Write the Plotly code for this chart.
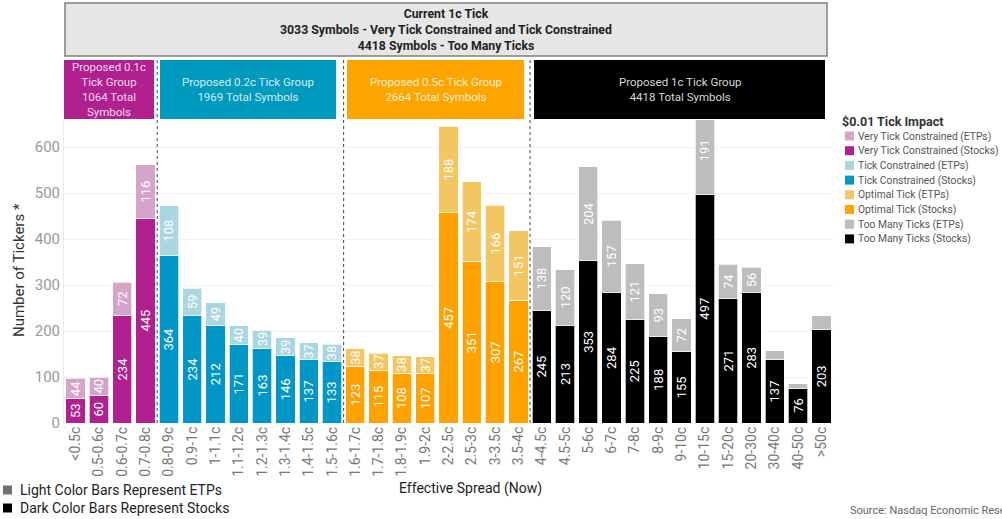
import plotly.graph_objects as go

categories = ['<0.5c', '0.5-0.6c', '0.6-0.7c', '0.7-0.8c', '0.8-0.9c', '0.9-1c', '1-1.1c',
              '1.1-1.2c', '1.2-1.3c', '1.3-1.4c', '1.4-1.5c', '1.5-1.6c', '1.6-1.7c',
              '1.7-1.8c', '1.8-1.9c', '1.9-2c', '2-2.5c', '2.5-3c', '3-3.5c', '3.5-4c',
              '4-4.5c', '4.5-5c', '5-6c', '6-7c', '7-8c', '8-9c', '9-10c', '10-15c',
              '15-20c', '20-30c', '30-40c', '40-50c', '>50c']
stocks = [53, 60, 234, 445, 364, 234, 212, 171, 163, 146, 137, 133, 123, 115, 108, 107,
          457, 351, 307, 267, 245, 213, 353, 284, 225, 188, 155, 497, 271, 283, 137, 76, 203]
etps = [44, 40, 72, 116, 108, 59, 49, 40, 39, 39, 37, 38, 38, 37, 38, 37,
        188, 174, 166, 151, 138, 120, 204, 157, 121, 93, 72, 191, 74, 56, 20, 9, 30]
group_of = [0] * 4 + [1] * 8 + [2] * 8 + [3] * 13

group_names = ['Very Tick Constrained', 'Tick Constrained', 'Optimal Tick', 'Too Many Ticks']
stock_colors = ['#B0208E', '#0096C6', '#FFA200', '#000000']
etp_colors = ['#D5A5C9', '#AAD6E2', '#F4C662', '#BDBDBD']
box_colors = ['#B0208E', '#009ABF', '#FFA500', '#000000']
box_texts = ['Proposed 0.1c<br>Tick Group<br>1064 Total<br>Symbols',
             'Proposed 0.2c Tick Group<br>1969 Total Symbols',
             'Proposed 0.5c Tick Group<br>2664 Total Symbols',
             'Proposed 1c Tick Group<br>4418 Total Symbols']
header_text = ('<b>Current 1c Tick</b><br><b>3033 Symbols - Very Tick Constrained and Tick Constrained</b>'
               '<br><b>4418 Symbols - Too Many Ticks</b>')

FONT = 'Roboto'
W, H = 1002, 519
L, R, T, B = 64, 833, 120, 423


def px_x(px):
    return (px - L) / (R - L)


def px_y(py):
    return (B - py) / (B - T)


fig = go.Figure()

# stocks (bottom) traces
for g in range(4):
    idx = [i for i in range(len(categories)) if group_of[i] == g]
    fig.add_trace(go.Bar(
        x=[categories[i] for i in idx], y=[stocks[i] for i in idx],
        name=f'{group_names[g]} (Stocks)',
        marker=dict(color=stock_colors[g], line=dict(color='rgba(255,255,255,0.7)', width=1)),
        text=[str(stocks[i]) for i in idx], textposition='inside', insidetextanchor='middle',
        textangle=-90, textfont=dict(color='white', size=13, family=FONT),
        showlegend=False))
# ETPs (top) traces
for g in range(4):
    idx = [i for i in range(len(categories)) if group_of[i] == g]
    fig.add_trace(go.Bar(
        x=[categories[i] for i in idx], y=[etps[i] for i in idx],
        name=f'{group_names[g]} (ETPs)',
        marker=dict(color=etp_colors[g], line=dict(color='rgba(255,255,255,0.7)', width=1)),
        text=[str(etps[i]) if etps[i] >= 35 else '' for i in idx], textposition='inside',
        insidetextanchor='middle', textangle=-90,
        textfont=dict(color='white', size=13, family=FONT),
        showlegend=False))

shapes = []
annotations = []

# header gray box
shapes.append(dict(type='rect', xref='paper', yref='paper', x0=px_x(65), x1=px_x(827),
                   y0=px_y(56), y1=px_y(3), fillcolor='#E6E6E6',
                   line=dict(color='#808080', width=1.5), layer='above'))
annotations.append(dict(xref='paper', yref='paper', x=px_x(446), y=px_y(30), text=header_text,
                        showarrow=False, font=dict(family=FONT, size=12.3, color='#222'),
                        align='center', xanchor='center', yanchor='middle'))

# group boxes
box_px = [(64, 154), (160, 336), (347, 524), (534, 825)]
for g in range(4):
    x0, x1 = box_px[g]
    shapes.append(dict(type='rect', xref='paper', yref='paper', x0=px_x(x0), x1=px_x(x1),
                       y0=px_y(119), y1=px_y(60), fillcolor=box_colors[g],
                       line=dict(width=0), layer='above'))
    annotations.append(dict(xref='paper', yref='paper', x=px_x((x0 + x1) / 2), y=px_y(90),
                            text=box_texts[g], showarrow=False,
                            font=dict(family=FONT, size=11.5, color='rgba(255,255,255,0.85)'),
                            align='center', xanchor='center', yanchor='middle'))

# dashed group separators (between groups)
n = len(categories)
for i in range(1, n):
    if group_of[i] != group_of[i - 1]:
        xp = i / n
        shapes.append(dict(type='line', xref='paper', yref='paper', x0=xp, x1=xp,
                           y0=0, y1=px_y(60), line=dict(color='#444', width=1, dash='dot'),
                           layer='above'))

# right legend (manual)
annotations.append(dict(xref='paper', yref='paper', x=px_x(840), y=px_y(122),
                        text='<b>$0.01 Tick Impact</b>', showarrow=False,
                        font=dict(family=FONT, size=12.5, color='#333'),
                        xanchor='left', yanchor='middle'))
leg_items = []
for g in range(4):
    leg_items.append((f'{group_names[g]} (ETPs)', etp_colors[g]))
    leg_items.append((f'{group_names[g]} (Stocks)', stock_colors[g]))
for k, (lab, col) in enumerate(leg_items):
    cy = 136 + k * 14.7
    shapes.append(dict(type='rect', xref='paper', yref='paper', x0=px_x(845), x1=px_x(854),
                       y0=px_y(cy + 4.5), y1=px_y(cy - 4.5), fillcolor=col, line=dict(width=0)))
    annotations.append(dict(xref='paper', yref='paper', x=px_x(856), y=px_y(cy), text=lab,
                            showarrow=False, font=dict(family=FONT, size=10.3, color='#555'),
                            xanchor='left', yanchor='middle'))

# bottom-left legend
for k, (lab, col) in enumerate([('Light Color Bars Represent ETPs', '#707070'),
                                 ('Dark Color Bars Represent Stocks', '#000000')]):
    cy = 490 + k * 18
    shapes.append(dict(type='rect', xref='paper', yref='paper', x0=px_x(3), x1=px_x(12),
                       y0=px_y(cy + 4.5), y1=px_y(cy - 4.5), fillcolor=col, line=dict(width=0)))
    annotations.append(dict(xref='paper', yref='paper', x=px_x(18), y=px_y(cy), text=lab,
                            showarrow=False, font=dict(family=FONT, size=14, color='#222'),
                            xanchor='left', yanchor='middle'))

# source
annotations.append(dict(xref='paper', yref='paper', x=px_x(848), y=px_y(510),
                        text='Source: Nasdaq Economic Research', showarrow=False,
                        font=dict(family=FONT, size=11, color='#666'),
                        xanchor='left', yanchor='middle'))

# axis titles
annotations.append(dict(xref='paper', yref='paper', x=px_x(19), y=px_y(270),
                        text='Number of Tickers *', textangle=-90, showarrow=False,
                        font=dict(family=FONT, size=15, color='#333'),
                        xanchor='center', yanchor='middle'))
annotations.append(dict(xref='paper', yref='paper', x=px_x(470), y=px_y(488),
                        text='Effective Spread (Now)', showarrow=False,
                        font=dict(family=FONT, size=14, color='#222'),
                        xanchor='center', yanchor='middle'))

fig.update_layout(
    width=W, height=H, barmode='stack', bargap=0.17,
    margin=dict(l=L, r=W - R, t=T, b=H - B, pad=0),
    plot_bgcolor='white', paper_bgcolor='white',
    font=dict(family=FONT, color='#333'),
    uniformtext=dict(minsize=13, mode='show'),
    shapes=shapes, annotations=annotations, showlegend=False,
    xaxis=dict(categoryorder='array', categoryarray=categories, tickangle=-90,
               tickfont=dict(family=FONT, size=14, color='#777'), showgrid=False,
               showline=False, ticks='', range=[-0.5, n - 0.5], fixedrange=True),
    yaxis=dict(range=[0, 658.7], tickvals=[0, 100, 200, 300, 400, 500, 600],
               tickfont=dict(family=FONT, size=15, color='#999'), gridcolor='#F2F2F2',
               showline=True, linecolor='#EBEBEB', zeroline=False, ticks='',
               fixedrange=True),
)

fig.write_html('out.html', config={'displayModeBar': False},
               post_script="document.body.style.margin='0';document.body.style.overflow='hidden';")
